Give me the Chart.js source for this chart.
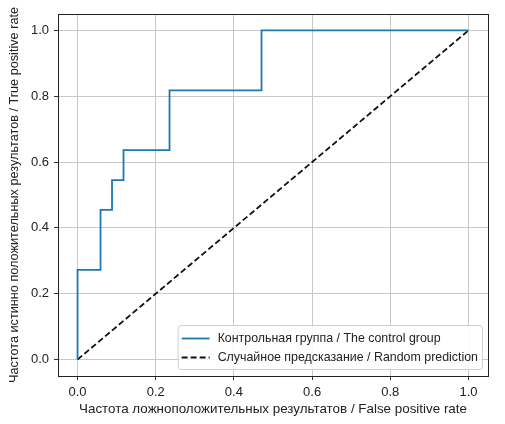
<!DOCTYPE html>
<html><head><meta charset="utf-8">
<script src="https://cdn.jsdelivr.net/npm/chart.js@4.4.0/dist/chart.umd.min.js"></script>
<style>html,body{margin:0;padding:0;background:#fff}#wrap{width:505px;height:424px;position:relative}</style>
</head><body><div id="wrap"><canvas id="c" width="505" height="424"></canvas></div>
<script>
// ROC curve of the control group
const fpr = [0, 0, 0.0588, 0.0588, 0.0882, 0.0882, 0.1176, 0.1176, 0.2353, 0.2353, 0.4706, 0.4706, 1.0];
const tpr = [0, 0.2727, 0.2727, 0.4545, 0.4545, 0.5455, 0.5455, 0.6364, 0.6364, 0.8182, 0.8182, 1.0, 1.0];
// random prediction diagonal
const randX = [0, 1];
const randY = [0, 1];
const xTicks = [0, 0.2, 0.4, 0.6, 0.8, 1.0];
const yTicks = [0, 0.2, 0.4, 0.6, 0.8, 1.0];
const seriesLabels = ['Контрольная группа / The control group', 'Случайное предсказание / Random prediction'];
const xTitle = 'Частота ложноположительных результатов / False positive rate';
const yTitle = 'Частота истинно положительных результатов / True positive rate';

const FONT = 'Liberation Sans, Arial, sans-serif';

const frameAndLegend = {
  id: 'frameAndLegend',
  afterDatasetsDraw(chart) {
    const {ctx, chartArea: a} = chart;
    ctx.save();
    ctx.strokeStyle = '#222';
    ctx.lineWidth = 1;
    ctx.strokeRect(Math.round(a.left) + 0.5, Math.round(a.top) + 0.5, Math.round(a.right - a.left), Math.round(a.bottom - a.top));
    // legend
    ctx.font = '12.4px ' + FONT;
    const ds = chart.data.datasets;
    let maxW = 0;
    ds.forEach(d => { maxW = Math.max(maxW, ctx.measureText(d.label).width); });
    const lineLen = 28, gap = 8, padX = 4, rowH = 19, padY = 3;
    const w = padX + lineLen + gap + maxW + padX;
    const h = padY * 2 + rowH * ds.length;
    const x0 = a.right - 6 - w, y0 = a.bottom - 7 - h;
    ctx.fillStyle = 'rgba(255,255,255,0.85)';
    ctx.strokeStyle = '#d0d0d0';
    ctx.beginPath();
    ctx.roundRect(x0 + 0.5, y0 + 0.5, w, h, 3);
    ctx.fill(); ctx.stroke();
    ds.forEach((d, i) => {
      const cy = y0 + padY + rowH * i + rowH / 2 + 1;
      ctx.strokeStyle = d.borderColor;
      ctx.lineWidth = d.borderWidth;
      ctx.setLineDash(d.borderDash || []);
      ctx.beginPath();
      ctx.moveTo(x0 + padX, cy); ctx.lineTo(x0 + padX + lineLen, cy); ctx.stroke();
      ctx.setLineDash([]);
      ctx.fillStyle = '#222';
      ctx.textBaseline = 'middle';
      ctx.textAlign = 'left';
      ctx.fillText(d.label, x0 + padX + lineLen + gap, cy);
    });
    ctx.restore();
  }
};

new Chart(document.getElementById('c'), {
  type: 'scatter',
  data: {
    datasets: [
      {
        label: seriesLabels[0],
        data: fpr.map((x, i) => ({x, y: tpr[i]})),
        showLine: true, borderColor: '#1f77b4', borderWidth: 1.8, pointRadius: 0, tension: 0
      },
      {
        label: seriesLabels[1],
        data: randX.map((x, i) => ({x, y: randY[i]})),
        showLine: true, borderColor: '#111', borderWidth: 1.8, borderDash: [6, 3], pointRadius: 0
      }
    ]
  },
  options: {
    responsive: false, animation: false, devicePixelRatio: 1,
    layout: {padding: {top: 14, right: 17, left: 0, bottom: 0}},
    plugins: {legend: {display: false}, tooltip: {enabled: false}},
    scales: {
      x: {
        type: 'linear', min: -0.05, max: 1.05,
        afterBuildTicks: s => { s.ticks = xTicks.map(v => ({value: v})); },
        afterFit: s => { s.height = 48; },
        ticks: {color: '#222', font: {family: FONT, size: 13}, padding: 5, maxRotation: 0,
          callback: v => Number(v).toFixed(1)},
        grid: {color: '#c8c8c8', lineWidth: 1, drawTicks: true, tickLength: 4, tickColor: '#333'},
        border: {display: false},
        title: {display: true, text: xTitle, color: '#222', font: {family: FONT, size: 13.4}, padding: {top: 0, bottom: 7}}
      },
      y: {
        type: 'linear', min: -0.05, max: 1.05,
        afterBuildTicks: s => { s.ticks = yTicks.map(v => ({value: v})); },
        afterFit: s => { s.width = 58; },
        ticks: {color: '#222', font: {family: FONT, size: 13}, padding: 5,
          callback: v => Number(v).toFixed(1)},
        grid: {color: '#c8c8c8', lineWidth: 1, drawTicks: true, tickLength: 4, tickColor: '#333'},
        border: {display: false},
        title: {display: true, text: yTitle, color: '#222', font: {family: FONT, size: 12.7}, padding: {top: 7, bottom: 0}}
      }
    }
  },
  plugins: [frameAndLegend]
});
</script>
</body></html>
